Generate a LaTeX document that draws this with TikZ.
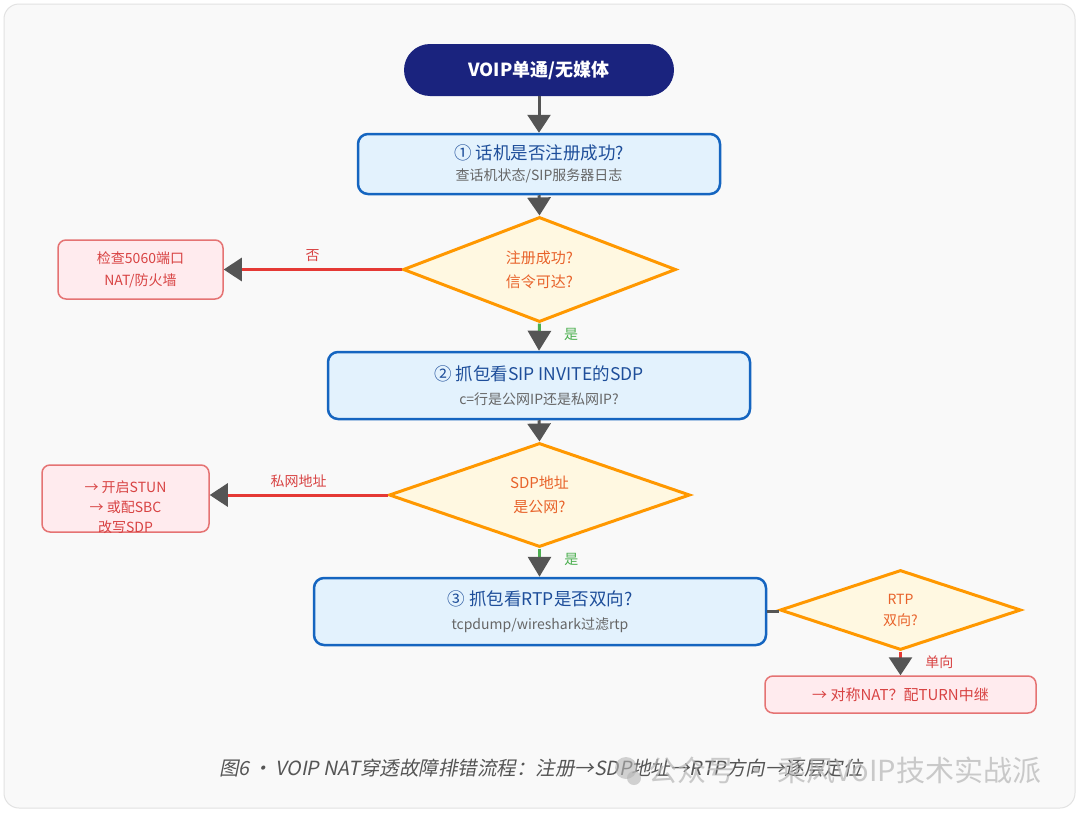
\documentclass[tikz,border=0pt]{standalone}
\usepackage{fontspec}
\setmainfont{Noto Sans CJK SC}
\newfontfamily\capfont[FakeSlant=0.2]{Noto Sans CJK SC}
\usetikzlibrary{shapes.geometric,arrows.meta,calc}
\definecolor{bgc}{HTML}{F9F9F9}
\definecolor{bgborder}{HTML}{E2E2E2}
\definecolor{navy}{HTML}{1A237E}
\definecolor{boxfill}{HTML}{E3F2FD}
\definecolor{boxblue}{HTML}{1565C0}
\definecolor{titleblue}{HTML}{1E4E9A}
\definecolor{subgray}{HTML}{666666}
\definecolor{decfill}{HTML}{FFF8E1}
\definecolor{decborder}{HTML}{FF9800}
\definecolor{dectext}{HTML}{E8632B}
\definecolor{redfill}{HTML}{FFEBEE}
\definecolor{redborder}{HTML}{E57373}
\definecolor{redtext}{HTML}{D84343}
\definecolor{redline}{HTML}{E53935}
\definecolor{greenline}{HTML}{4CAF50}
\definecolor{arrowgray}{HTML}{555555}
\definecolor{capgray}{HTML}{555555}
\definecolor{wmgray}{HTML}{B5B5B5}
\tikzset{
  startbox/.style={draw=none, fill=navy, rounded corners=26pt, text=white,
    minimum width=270pt, minimum height=52pt, font=\fontsize{18}{22}\selectfont\bfseries},
  stepbox/.style={draw=boxblue, fill=boxfill, line width=2.5pt, rounded corners=10pt,
    align=center, minimum height=60pt},
  decide/.style={diamond, draw=decborder, fill=decfill, line width=3pt, align=center,
    text=dectext, inner sep=0pt, font=\fontsize{15}{24}\selectfont},
  redbox/.style={draw=redborder, fill=redfill, line width=1.5pt, rounded corners=8pt,
    align=center, text=redtext, font=\fontsize{14}{22}\selectfont},
  grayflow/.style={draw=arrowgray, line width=3pt,
    -{Triangle[width=23pt,length=18pt,color=arrowgray]}},
  noflow/.style={draw=redline, line width=3pt,
    -{Triangle[width=23pt,length=18pt,color=arrowgray]}},
  yesflow/.style={draw=greenline, line width=3pt,
    -{Triangle[width=23pt,length=20pt,color=arrowgray]}},
  nolabel/.style={text=redtext, font=\fontsize{14}{16}\selectfont},
  yeslabel/.style={text=greenline, font=\fontsize{14}{16}\selectfont}
}
\newcommand{\tline}[1]{{\fontsize{17.5}{20}\selectfont\color{titleblue}#1}}
\newcommand{\sline}[1]{{\fontsize{14}{17}\selectfont\color{subgray}#1}}
\begin{document}
\begin{tikzpicture}[x=1pt,y=-1pt]
\useasboundingbox (0,0) rectangle (1080,814);
\fill[white] (0,0) rectangle (1080,814);
\draw[bgborder, fill=bgc, line width=1pt, rounded corners=15pt] (4,4) rectangle (1075,808);

% nodes
\node[startbox] (start) at (539,70) {VOIP单通/无媒体};
\node[stepbox, minimum width=362pt, minimum height=60pt] (s1) at (539,164)
  {\tline{① 话机是否注册成功?}\\[7pt]\sline{查话机状态/SIP服务器日志}};
\node[decide, minimum width=273pt, minimum height=105pt] (d1) at (539.5,269.5)
  {注册成功?\\信令可达?};
\node[redbox, minimum width=165pt, minimum height=59pt] (n1) at (140.5,269.5)
  {检查5060端口\\NAT/防火墙};

\node[stepbox, minimum width=422pt, minimum height=67pt] (s2) at (539,385.5)
  {\tline{② 抓包看SIP INVITE的SDP}\\[10pt]\sline{c=行是公网IP还是私网IP?}};
\node[decide, minimum width=301pt, minimum height=104pt] (d2) at (539.5,495)
  {SDP地址\\是公网?};
\node[redbox, minimum width=167pt, minimum height=67pt] (n2) at (125.5,498.5) {};
\node[text=redtext, align=center, font=\fontsize{14}{20}\selectfont] (n2text) at (125.5,507)
  {→ 开启STUN\\→ 或配SBC\\改写SDP};

\node[stepbox, minimum width=452pt, minimum height=67pt] (s3) at (540,611.5)
  {\tline{③ 抓包看RTP是否双向?}\\[10pt]\sline{tcpdump/wireshark过滤rtp}};
\node[decide, minimum width=241pt, minimum height=80pt, font=\fontsize{14}{21}\selectfont] (d3) at (900.5,610)
  {RTP\\双向?};
\node[redbox, minimum width=271pt, minimum height=37pt, font=\fontsize{15}{18}\selectfont] (n3) at (900.5,694.5)
  {→ 对称NAT？配TURN中继};

% connectors
\draw[grayflow] (start.south) -- (s1.north);
\draw[grayflow] (s1.south) -- (d1.north);
\draw[noflow] (d1.west) -- node[nolabel, above=3pt] {否} (n1.east);
\draw[yesflow] (d1.south) -- node[yeslabel, right, xshift=20pt, yshift=3pt] {是} (s2.north);
\draw[grayflow] (s2.south) -- (d2.north);
\draw[noflow] (d2.west) -- node[nolabel, above=3pt] {私网地址} (d2.west -| n2.east);
\draw[yesflow] (d2.south) -- node[yeslabel, right, xshift=20pt, yshift=3pt] {是} (d2.south |- s3.north);
\draw[arrowgray, line width=3pt] (s3.east) -- (s3.east -| d3.west);
\draw[noflow] (d3.south) -- node[nolabel, right, xshift=20pt, yshift=1pt] {单向} (d3.south |- n3.north);

% caption and watermark
\node[text=capgray, font=\capfont\fontsize{19.5}{22}\selectfont] (cap) at (541,768)
  {图6\,·\,VOIP NAT穿透故障排错流程：注册→SDP地址→RTP方向→逐层定位};
\fill[wmgray, opacity=0.6] (626,768) circle (11pt);
\fill[wmgray, opacity=0.6] (634,778) circle (7pt);
\node[text=wmgray, opacity=0.7, font=\fontsize{29}{32}\selectfont] (wm) at (845,770)
  {公众号 · 乘风VoIP技术实战派};
\end{tikzpicture}
\end{document}
